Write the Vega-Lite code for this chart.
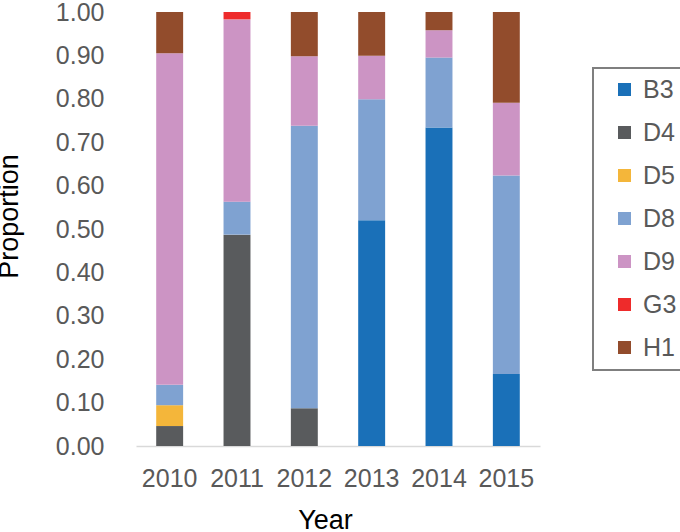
{
  "$schema": "https://vega.github.io/schema/vega-lite/v6.json",
  "autosize": {"type": "none"},
  "padding": {"left": 136, "top": 12, "right": 140, "bottom": 86},
  "width": 404,
  "height": 434,
  "background": "white",
  "config": {
    "view": {"stroke": null},
    "font": "Liberation Sans"
  },
  "data": {
    "values": [
      {"Year": "2010", "Series": "D4", "Proportion": 0.046},
      {"Year": "2010", "Series": "D5", "Proportion": 0.048},
      {"Year": "2010", "Series": "D8", "Proportion": 0.047},
      {"Year": "2010", "Series": "D9", "Proportion": 0.764},
      {"Year": "2010", "Series": "H1", "Proportion": 0.095},
      {"Year": "2011", "Series": "D4", "Proportion": 0.487},
      {"Year": "2011", "Series": "D8", "Proportion": 0.076},
      {"Year": "2011", "Series": "D9", "Proportion": 0.420},
      {"Year": "2011", "Series": "G3", "Proportion": 0.017},
      {"Year": "2012", "Series": "D4", "Proportion": 0.087},
      {"Year": "2012", "Series": "D8", "Proportion": 0.651},
      {"Year": "2012", "Series": "D9", "Proportion": 0.160},
      {"Year": "2012", "Series": "H1", "Proportion": 0.102},
      {"Year": "2013", "Series": "B3", "Proportion": 0.520},
      {"Year": "2013", "Series": "D8", "Proportion": 0.279},
      {"Year": "2013", "Series": "D9", "Proportion": 0.100},
      {"Year": "2013", "Series": "H1", "Proportion": 0.101},
      {"Year": "2014", "Series": "B3", "Proportion": 0.734},
      {"Year": "2014", "Series": "D8", "Proportion": 0.161},
      {"Year": "2014", "Series": "D9", "Proportion": 0.063},
      {"Year": "2014", "Series": "H1", "Proportion": 0.042},
      {"Year": "2015", "Series": "B3", "Proportion": 0.166},
      {"Year": "2015", "Series": "D8", "Proportion": 0.457},
      {"Year": "2015", "Series": "D9", "Proportion": 0.168},
      {"Year": "2015", "Series": "H1", "Proportion": 0.209}
    ]
  },
  "mark": {"type": "bar"},
  "encoding": {
    "x": {
      "field": "Year",
      "type": "ordinal",
      "scale": {"paddingInner": 0.6, "paddingOuter": 0.3},
      "axis": {
        "title": "Year",
        "labelAngle": 0,
        "labelFontSize": 25,
        "labelColor": "#595959",
        "labelPadding": 20,
        "ticks": false,
        "domainColor": "#d9d9d9",
        "domainWidth": 1.5,
        "titleFontSize": 27,
        "titleFontWeight": "normal",
        "titleColor": "#000000",
        "titleX": 189,
        "titleY": 61,
        "titleBaseline": "top"
      }
    },
    "y": {
      "field": "Proportion",
      "type": "quantitative",
      "stack": "zero",
      "scale": {"domain": [0, 1], "nice": false},
      "axis": {
        "title": "Proportion",
        "values": [0, 0.1, 0.2, 0.3, 0.4, 0.5, 0.6, 0.7, 0.8, 0.9, 1.0],
        "format": ".2f",
        "labelFontSize": 25,
        "labelColor": "#595959",
        "labelPadding": 32,
        "ticks": false,
        "domain": false,
        "grid": false,
        "titleFontSize": 27,
        "titleFontWeight": "normal",
        "titleColor": "#000000",
        "titleX": -113,
        "titleY": 204,
        "titleAngle": -90,
        "titleBaseline": "bottom",
        "titleAlign": "center"
      }
    },
    "color": {
      "field": "Series",
      "type": "nominal",
      "scale": {
        "domain": ["B3", "D4", "D5", "D8", "D9", "G3", "H1"],
        "range": ["#1a70b8", "#595b5d", "#f4b63a", "#7fa2d1", "#cc94c4", "#ee2b2b", "#924c2c"]
      },
      "legend": {
        "title": null,
        "orient": "none",
        "legendX": 457,
        "legendY": 56,
        "symbolType": "square",
        "symbolSize": 169,
        "symbolStrokeWidth": 0,
        "symbolOffset": 10,
        "labelFontSize": 25,
        "labelColor": "#595959",
        "labelOffset": 6,
        "rowPadding": 17,
        "padding": 9,
        "strokeColor": "#7f7f7f",
        "cornerRadius": 0,
        "encode": {
          "legend": {"update": {"strokeWidth": {"value": 2}}}
        }
      }
    },
    "order": {"field": "Series", "sort": "ascending"}
  }
}
